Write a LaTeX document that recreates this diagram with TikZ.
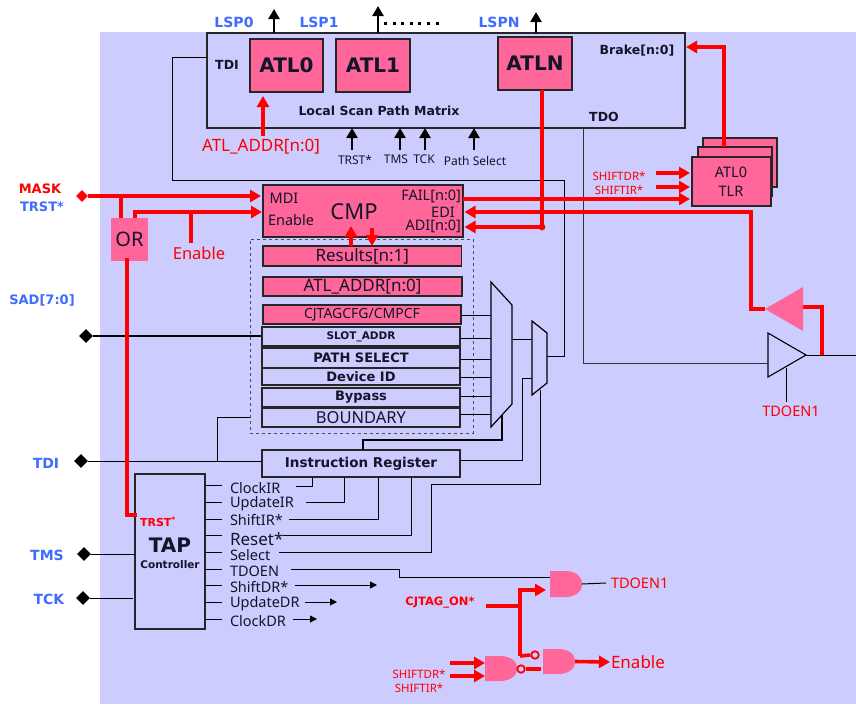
\documentclass[tikz,border=0pt]{standalone}
\usepackage{fontspec}
\usepackage{xcolor}
\setmainfont{Noto Sans}
\newfontfamily\vb{DejaVu Sans}
\usetikzlibrary{arrows.meta,shapes.geometric,calc}
\definecolor{bgc}{HTML}{CCCCFF}
\definecolor{pinkc}{HTML}{FF6699}
\definecolor{redc}{HTML}{FF0000}
\definecolor{bluec}{HTML}{3F6BFF}
\definecolor{inkc}{HTML}{14142A}
\newcommand\fsz[1]{\fontsize{#1}{#1}\selectfont}
\newcommand\bx[7]{\node[#2,minimum width={(#5-(#3))*1pt},minimum height={(#6-(#4))*1pt},inner sep=0pt,outer sep=0pt] (#1) at ({(#3+#5)/2},{(#4+#6)/2}) {#7};}
% AND gate: name, x1, y1, x2, y2
\newcommand\andg[5]{\node[minimum width={(#4-#2)*1pt},minimum height={(#5-#3)*1pt},inner sep=0pt,outer sep=0pt] (#1) at ({(#2+#4)/2},{(#3+#5)/2}) {};
\fill[pinkc] (#2,#3) -- ({#2+15},#3) .. controls ({#4+6},#3) and ({#4+6},#5) .. ({#2+15},#5) -- (#2,#5) -- cycle;}
\tikzset{
 thin line/.style={line width=1pt,draw=black},
 thick line/.style={line width=2.2pt,draw=black},
 redline/.style={line width=3.6pt,draw=redc},
 redarrow/.style={redline,-{Triangle[length=11pt,width=12pt]}},
 blackarrow/.style={line width=2.5pt,draw=black,-{Triangle[length=10pt,width=11pt]}},
 smallarrow/.style={line width=1pt,draw=black,-{Triangle[length=7pt,width=7pt]}},
 box/.style={draw=black!85,line width=1.2pt,fill=bgc,text=inkc},
 pinkbox/.style={draw=black!85,line width=1.2pt,fill=pinkc,text=inkc},
 lbl/.style={inner sep=0pt,outer sep=0pt,text=inkc},
 redlbl/.style={inner sep=0pt,outer sep=0pt,text=redc},
 bluelbl/.style={inner sep=0pt,outer sep=0pt,text=bluec,font=\vb\bfseries\fsz{14}},
 pad/.style={diamond,fill=black,inner sep=0pt,minimum size=14pt},
 bubble/.style={circle,draw=redc,line width=1.8pt,fill=bgc,inner sep=0pt,minimum size=7.5pt},
}
\begin{document}
\begin{tikzpicture}[x=1pt,y=-1pt]
\useasboundingbox (0,0) rectangle (856,704);
\fill[white] (0,0) rectangle (856,704);
\fill[bgc] (100,32) rectangle (856,704);

% ---------- main boxes that carry connectors
\bx{matrix}{box}{207}{33}{685}{128}{}
\bx{cmp}{pinkbox}{263}{185}{463}{237}{}
\bx{tap}{box}{135}{474}{205}{629}{}
\bx{ir}{box}{262}{450}{460}{477}{\vb\bfseries\fsz{13.5}Instruction Register}

% ---------- pads
\node[pad,fill=redc,minimum size=12pt] (mask) at (82,196) {};
\node[pad] (sad) at (86,336) {};
\node[pad] (tdi) at (81,461) {};
\node[pad] (tms) at (84,554) {};
\node[pad] (tck) at (83,598) {};

% ---------- muxes and buffers
\node[inner sep=0pt] (mxa) at (501.5,354.5) {};
\node[inner sep=0pt] (mxb) at (539.5,358) {};
\coordinate (mxaW) at (491,354.5);
\coordinate (mxaE) at (512,354.5);
\coordinate (mxbW) at (532,358);
\coordinate (mxbE) at (547,358);
\node[inner sep=0pt,minimum width=38pt,minimum height=44pt] (buf) at (787,355) {};
\node[inner sep=0pt,minimum width=38pt,minimum height=44pt] (retb) at (784,309) {};

% ---------- thin wiring
\coordinate (tdiA) at (172,57);
\coordinate (tdiB) at (172,180);
\coordinate (tdiC) at (564,180);
\coordinate (tdiD) at (564,356);
\coordinate (tdiE) at (547,356);
\draw[thin line] (tdiE) -- (tdiD) -- (tdiC) -- (tdiB) -- (tdiA) -- (matrix.west |- tdiA);
\coordinate (tdoA) at (583,128);
\coordinate (tdoB) at (583,363);
\coordinate (tdoC) at (768,363);
\draw[thin line,draw=black!80] (tdoA) -- (tdoB) -- (tdoC);
\coordinate (outR) at (856,355);
\draw[thin line] (806,355) -- (outR);
\coordinate (enA) at (786,368);
\coordinate (enB) at (786,402);
\draw[thin line] (enA) -- (enB);
\draw[thick line] (sad) -- (262,336);
\draw[thin line] (tdi) -- (tdi -| ir.west);
\coordinate (bndA) at (217,461);
\coordinate (bndB) at (217,417);
\coordinate (bndC) at (250,417);
\draw[thin line] (bndA) -- (bndB) -- (bndC);
\draw[thin line] (tms) -- (tms -| tap.west);
\draw[thin line] (tck) -- (133,598);

% stubs from the TAP controller
\foreach \n/\y in {a/485,b/502,c/519,d/535,e/552,f/569,g/585,h/602,i/619}{
  \coordinate (st\n) at (222,\y);
  \draw[thin line] (st\n -| tap.east) -- (st\n);
}
% TAP outputs
\coordinate (ca) at (296,486); \coordinate (cb) at (312,486);
\draw[thin line] (ca) -- (cb) -- (cb |- ir.south);
\coordinate (ua) at (306,502); \coordinate (ub) at (344,502);
\draw[thin line] (ua) -- (ub) -- (ub |- ir.south);
\coordinate (sa) at (289,519); \coordinate (sb) at (378,519);
\draw[thin line] (sa) -- (sb) -- (sb |- ir.south);
\coordinate (ra) at (283,535); \coordinate (rb) at (411,535);
\draw[thin line] (ra) -- (rb) -- (rb |- ir.south);
\coordinate (sea) at (279,552); \coordinate (seb) at (431,552); \coordinate (sec) at (431,484); \coordinate (sed) at (540,484); \coordinate (see) at (540,390);
\draw[thin line] (sea) -- (seb) -- (sec) -- (sed) -- (see);
\coordinate (ta) at (291,569); \coordinate (tb) at (399,569); \coordinate (tc) at (399,577); \coordinate (td) at (550,577);
\draw[thin line] (ta) -- (tb) -- (tc) -- (td);
\coordinate (sda) at (295,585); \coordinate (sdb) at (377,585);
\draw[smallarrow] (sda) -- (sdb);
\coordinate (uda) at (305,602); \coordinate (udb) at (337,602);
\draw[smallarrow] (uda) -- (udb);
\coordinate (cda) at (293,619); \coordinate (cdb) at (317,619);
\draw[smallarrow] (cda) -- (cdb);

% dashed group
\node[draw=black!70,dashed,line width=1pt,minimum width=223pt,minimum height=194pt,inner sep=0pt] (grp) at (361.5,336) {};

% registers
\bx{res}{pinkbox}{263}{246}{461.5}{266}{\fsz{17}Results[n:1]}
\bx{addr}{pinkbox}{263}{277}{462}{296}{\fsz{17}ATL\_ADDR[n:0]}
\bx{cfg}{pinkbox}{263}{305}{461}{324}{\fsz{14}CJTAGCFG/CMPCF}
\bx{slot}{box}{262}{327}{460}{346}{\vb\bfseries\fsz{10.5}SLOT\_ADDR}
\bx{path}{box}{262}{348}{460}{368}{\vb\bfseries\fsz{13}PATH SELECT}
\bx{dev}{box}{262}{368}{460}{385}{\vb\bfseries\fsz{13}Device ID}
\bx{byp}{box}{262}{388}{460}{407}{\vb\bfseries\fsz{13}Bypass}
\bx{bnd}{box}{262}{408}{460}{427}{\fsz{16.5}BOUNDARY}

% mux inputs
\draw[thin line] (cfg.east |- 0,315) -- (491,315);
\draw[thin line] (slot.east |- 0,338) -- (491,338);
\draw[thin line] (path.east |- 0,359) -- (491,359);
\draw[thin line] (dev.east |- 0,377) -- (491,377);
\draw[thin line] (byp.east |- 0,396) -- (491,396);
\draw[thin line] (bnd.east |- 0,414) -- (491,414);
\coordinate (mo) at (512,339); \coordinate (mi) at (532,339);
\draw[thin line] (mo) -- (mi);
\coordinate (ira) at (522,460); \coordinate (irb) at (522,378); \coordinate (irc) at (532,378);
\draw[thin line] (ir.east |- ira) -- (ira) -- (irb) -- (irc);
\coordinate (tha) at (502,413); \coordinate (thb) at (502,440); \coordinate (thc) at (363,440);
\draw[thick line] (tha) -- (thb) -- (thc) -- (thc |- ir.north);
\draw[thin line,fill=bgc,line width=1.2pt] (491,282) -- (512,305) -- (512,404) -- (491,427) -- cycle;
\draw[thin line,fill=bgc,line width=1.2pt] (532,321) -- (547,333) -- (547,383) -- (532,395) -- cycle;

% matrix contents
\bx{atlz}{pinkbox}{250}{39}{323}{92}{\vb\bfseries\fsz{20}ATL0}
\bx{atlo}{pinkbox}{336}{39}{410}{92}{\vb\bfseries\fsz{20}ATL1}
\bx{atln}{pinkbox}{498}{37}{572}{90}{\vb\bfseries\fsz{20}ATLN}
\node[lbl,font=\vb\bfseries\fsz{12.5}] (ltdi) at (227,65) {TDI};
\node[lbl,font=\vb\bfseries\fsz{12.5}] (lmat) at (379,111) {Local Scan Path Matrix};
\node[lbl,font=\vb\bfseries\fsz{12.5}] (lbrk) at (637,51) {Brake[n:0]};
\node[lbl,font=\vb\bfseries\fsz{12.5}] (ltdo) at (604,117) {TDO};

% top outputs
\node[bluelbl] (lsp0) at (234,22) {LSP0};
\node[bluelbl] (lsp1) at (319,22) {LSP1};
\node[bluelbl] (lspn) at (499,22) {LSPN};
\coordinate (upa) at (274,9); \coordinate (upb) at (378,6); \coordinate (upc) at (536,12);
\draw[blackarrow] (upa |- matrix.north) -- (upa);
\draw[blackarrow] (upb |- matrix.north) -- (upb);
\draw[blackarrow] (upc |- matrix.north) -- (upc);
\coordinate (dota) at (384,23); \coordinate (dotb) at (444,23);
\draw[line width=3pt,draw=black,dash pattern=on 3pt off 5.6pt] (dota) -- (dotb);

% lower matrix inputs
\coordinate (tf) at (352,150); \coordinate (mf) at (400,150); \coordinate (kf) at (425,150); \coordinate (pf) at (474,150);
\draw[blackarrow] (tf) -- (tf |- matrix.south);
\draw[blackarrow] (mf) -- (mf |- matrix.south);
\draw[blackarrow] (kf) -- (kf |- matrix.south);
\draw[blackarrow] (pf) -- (pf |- matrix.south);
\node[lbl,font=\fsz{12}] (ltrst) at (355,160) {TRST*};
\node[lbl,font=\fsz{12}] (ltms) at (396,159) {TMS};
\node[lbl,font=\fsz{12}] (ltck) at (424,159) {TCK};
\node[lbl,font=\fsz{12}] (lpath) at (475,161) {Path Select};

\node[redlbl,font=\fsz{17}] (laddr) at (261,147) {ATL\_ADDR[n:0]};
\coordinate (af) at (263,136);
\draw[redarrow] (af) -- (263,96);

% CMP text
\node[lbl,font=\fsz{14.5}] (lmdi) at (284,198) {MDI};
\node[lbl,font=\fsz{14.5}] (len) at (291,220) {Enable};
\node[lbl,font=\fsz{22}] (lcmp) at (354,212) {CMP};
\node[lbl,font=\fsz{14.5},anchor=east] (lfail) at (461,196) {FAIL[n:0]};
\node[lbl,font=\fsz{14.5}] (ledi) at (443,212) {EDI};
\node[lbl,font=\fsz{14.5},anchor=east] (ladi) at (461,226) {ADI[n:0]};

% TLR stack
\bx{tlrc}{pinkbox}{703}{138}{777}{187}{}
\bx{tlrb}{pinkbox}{698}{147}{772}{196}{}
\node[lbl,font=\fsz{13}] (lhid) at (724,163) {ATL0};
\bx{tlra}{pinkbox}{692}{157}{771}{206}{}
\node[lbl,font=\fsz{14.5}] (lta) at (731,172) {ATL0};
\node[lbl,font=\fsz{14.5}] (ltb) at (731,191) {TLR};

% OR
\bx{orb}{fill=pinkc,text=inkc}{111}{218}{148}{261}{\fsz{20}OR}

% red wiring
\draw[redarrow] (mask) -- (261,196);
\coordinate (oa) at (121,196);
\draw[redline] (oa) -- (oa |- orb.north);
\coordinate (ob) at (135,212);
\draw[redline] (ob |- orb.north) -- (ob);
\draw[redarrow] ([xshift=-1.8pt]ob) -- (262,212);
\coordinate (ea) at (191,212); \coordinate (eb) at (191,243);
\draw[redline] (ea) -- (eb);
\node[redlbl,font=\fsz{16.5}] (lenable) at (199,253) {Enable};
\coordinate (oc) at (127,258); \coordinate (od) at (127,515); \coordinate (oe) at (137,515);
\draw[redline] (oc) -- (od) -- (oe);

\draw[redarrow] (351,246) -- (351,226);
\draw[redarrow] (372,228) -- (372,246);

\coordinate (fa) at (463,199);
\draw[redarrow] (fa) -- (690,199);
\coordinate (ra1) at (765,309); \coordinate (ra2) at (751,309); \coordinate (ra3) at (751,212);
\draw[redarrow,rounded corners=0pt] (ra1) -- (ra2) -- (ra3) -- (464.5,212);
\coordinate (rb1) at (822,355); \coordinate (rb2) at (822,307); \coordinate (rb3) at (802,307);
\draw[redline] (rb1) -- (rb2) -- (rb3);
\coordinate (adiJ) at (542,227);
\draw[redline] (atln.south -| adiJ) -- (adiJ);
\draw[redarrow] (adiJ) -- (464.5,227);
\fill[redc] (adiJ) circle (3.4);
\coordinate (bra) at (724,147); \coordinate (brb) at (724,47);
\draw[redarrow] (bra) -- (brb) -- (686,47);
\coordinate (sh1) at (656,173); \coordinate (sh2) at (656,187);
\draw[redarrow] (sh1) -- (690,173);
\draw[redarrow] (sh2) -- (690,187);
\node[redlbl,font=\fsz{11.5}] (lsh1) at (619,176) {SHIFTDR*};
\node[redlbl,font=\fsz{11.5}] (lsh2) at (619,190) {SHIFTIR*};

% tri-state and return driver
\draw[line width=1.1pt,draw=black,fill=bgc] (768,333) -- (806,355) -- (768,377) -- cycle;
\fill[pinkc] (765,309) -- (803,287) -- (803,331) -- cycle;
\node[redlbl,font=\fsz{14.5}] (ltdoen) at (791,411) {TDOEN1};

% labels at left
\node[redlbl,font=\vb\bfseries\fsz{13}] (lmask) at (40,189) {MASK};
\node[bluelbl,font=\vb\bfseries\fsz{13}] (ltrs) at (42,207) {TRST*};
\node[bluelbl,font=\vb\bfseries\fsz{13}] (lsad) at (42,300) {SAD[7:0]};
\node[bluelbl] (ltd) at (46,463) {TDI};
\node[bluelbl] (ltm) at (47,555) {TMS};
\node[bluelbl] (ltc) at (49,599) {TCK};

% TAP labels
\node[redlbl,font=\vb\bfseries\fsz{11}] (ltap0) at (158,522) {TRST\textsuperscript{*}};
\node[lbl,font=\vb\bfseries\fsz{20}] (ltap1) at (170,545) {TAP};
\node[lbl,font=\vb\bfseries\fsz{10.5}] (ltap2) at (170,565) {Controller};
\foreach \t/\y/\s in {ClockIR/488/14.5,UpdateIR/504/14.5,ShiftIR*/520/14.5,Reset*/539/17,Select/555/14.5,TDOEN/571/14.5,ShiftDR*/587/14.5,UpdateDR/604/14.5,ClockDR/621/14.5}{
  \node[lbl,anchor=west,font=\fsz{\s}] at (230,\y) {\t};
}

% gates
\andg{ga}{550}{571}{582}{597}
\andg{gb}{543}{649}{575}{674}
\andg{gc}{485}{656}{517}{681}
\coordinate (gaO) at (606,583);
\draw[thin line] (ga.east) -- (gaO);
\node[redlbl,anchor=west,font=\fsz{14.5}] (lga) at (611,583) {TDOEN1};
\node[redlbl,font=\vb\bfseries\fsz{11.5}] (lcj) at (440,603) {CJTAG\_ON*};
\coordinate (cja) at (486,606); \coordinate (cjb) at (520,606); \coordinate (cjc) at (520,590); \coordinate (cjd) at (520,656);
\node[bubble] (bba) at (535,655) {};
\node[bubble] (bbb) at (521,669) {};
\draw[redline] (cja) -- (cjb);
\draw[redarrow] (cjd) -- (cjc) -- (546,590);
\draw[redline] (cjd) -- (bba.west);
\coordinate (bbc) at (541,669);
\draw[redline] (bbb.east) -- (bbc);
\draw[redarrow] (gb.east) -- (610,662);
\node[redlbl,anchor=west,font=\fsz{17}] (lgb) at (611,662) {Enable};
\coordinate (sc1) at (450,663); \coordinate (sc2) at (450,676);
\draw[redarrow] (sc1) -- (gc.west |- sc1);
\draw[redarrow] (sc2) -- (gc.west |- sc2);
\node[redlbl,font=\fsz{11.5}] (lsc1) at (419,674) {SHIFTDR*};
\node[redlbl,font=\fsz{11.5}] (lsc2) at (419,688) {SHIFTIR*};
\end{tikzpicture}
\end{document}
